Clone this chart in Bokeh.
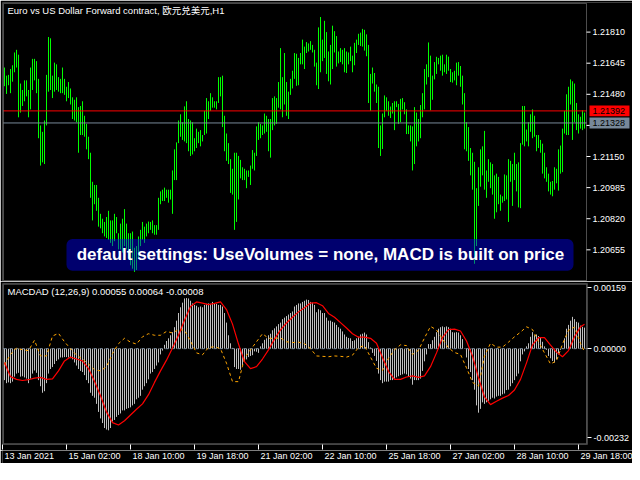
from bokeh.plotting import figure
from bokeh.layouts import column
from bokeh.models import Range1d, FixedTicker, PrintfTickFormatter, Label, BoxAnnotation
from bokeh.core.properties import value
from bokeh.embed import file_html
from bokeh.resources import INLINE

# ---------------- data ----------------
title_text = "Euro vs US Dollar Forward contract, 欧元兑美元,H1"
macd_text = "MACDAD (12,26,9) 0.00055 0.00064 -0.00008"
banner_text = "default settings: UseVolumes = none, MACD is built on price"

bid_price = 1.21392
ask_price = 1.21328

price_ticks = [1.20655, 1.20820, 1.20985, 1.21150, 1.21315, 1.21480, 1.21645, 1.21810]
macd_ticks = [-0.00232, 0.0, 0.00159]

time_tick_idx = [-1, 31, 63, 95, 127, 159, 191, 223, 255, 287]
time_tick_labels = ["13 Jan 2021", "15 Jan 02:00", "18 Jan 10:00", "19 Jan 18:00", "21 Jan 02:00",
                    "22 Jan 10:00", "25 Jan 18:00", "27 Jan 02:00", "28 Jan 10:00", "29 Jan 18:00"]

high = [1.21622, 1.21579, 1.21583, 1.21614, 1.21634, 1.21702, 1.21716, 1.21690, 1.21537, 1.21503,
        1.21554, 1.21554, 1.21503, 1.21622, 1.21668, 1.21668, 1.21656, 1.21562, 1.21315, 1.21281,
        1.21341, 1.21583, 1.21784, 1.21777, 1.21579, 1.21648, 1.21639, 1.21571, 1.21562, 1.21622,
        1.21562, 1.21520, 1.21545, 1.21511, 1.21464, 1.21451, 1.21464, 1.21412, 1.21418, 1.21443,
        1.21366, 1.21323, 1.21255, 1.21170, 1.21016, 1.20999, 1.20999, 1.20931, 1.20846, 1.20820,
        1.20803, 1.20829, 1.20862, 1.20811, 1.20811, 1.20846, 1.20829, 1.20743, 1.20794, 1.20820,
        1.20871, 1.20794, 1.20743, 1.20743, 1.20752, 1.20666, 1.20675, 1.20726, 1.20761, 1.20803,
        1.20778, 1.20794, 1.20805, 1.20803, 1.20811, 1.20786, 1.20786, 1.20931, 1.20965, 1.20974,
        1.20985, 1.20974, 1.20974, 1.20974, 1.21076, 1.21188, 1.21225, 1.21341, 1.21374, 1.21332,
        1.21416, 1.21443, 1.21349, 1.21341, 1.21332, 1.21247, 1.21298, 1.21281, 1.21290, 1.21264,
        1.21392, 1.21460, 1.21443, 1.21486, 1.21464, 1.21443, 1.21443, 1.21571, 1.21571, 1.21579,
        1.21366, 1.21272, 1.21221, 1.21136, 1.21085, 1.21170, 1.21170, 1.21153, 1.21132, 1.21093,
        1.21085, 1.21076, 1.21076, 1.21102, 1.21184, 1.21170, 1.21310, 1.21332, 1.21323, 1.21315,
        1.21378, 1.21366, 1.21349, 1.21349, 1.21460, 1.21469, 1.21460, 1.21545, 1.21725, 1.21571,
        1.21699, 1.21545, 1.21494, 1.21562, 1.21605, 1.21699, 1.21695, 1.21673, 1.21699, 1.21770,
        1.21733, 1.21757, 1.21750, 1.21762, 1.21742, 1.21716, 1.21648, 1.21835, 1.21890, 1.21770,
        1.21870, 1.21810, 1.21707, 1.21742, 1.21844, 1.21815, 1.21789, 1.21707, 1.21725, 1.21716,
        1.21725, 1.21707, 1.21702, 1.21733, 1.21685, 1.21753, 1.21770, 1.21801, 1.21807, 1.21827,
        1.21822, 1.21798, 1.21742, 1.21588, 1.21622, 1.21593, 1.21532, 1.21520, 1.21315, 1.21378,
        1.21474, 1.21464, 1.21443, 1.21415, 1.21434, 1.21443, 1.21443, 1.21429, 1.21456, 1.21460,
        1.21438, 1.21400, 1.21315, 1.21315, 1.21310, 1.21412, 1.21383, 1.21349, 1.21423, 1.21486,
        1.21614, 1.21639, 1.21755, 1.21685, 1.21579, 1.21651, 1.21679, 1.21673, 1.21685, 1.21690,
        1.21639, 1.21690, 1.21680, 1.21614, 1.21597, 1.21605, 1.21648, 1.21651, 1.21630, 1.21579,
        1.21486, 1.21332, 1.21306, 1.21195, 1.21170, 1.21122, 1.20982, 1.21093, 1.21188, 1.21204,
        1.21286, 1.21076, 1.21136, 1.21119, 1.21110, 1.21050, 1.21059, 1.21042, 1.20948, 1.20939,
        1.21055, 1.21050, 1.21136, 1.21127, 1.21110, 1.21170, 1.21110, 1.21119, 1.21221, 1.21418,
        1.21418, 1.21293, 1.21332, 1.21374, 1.21400, 1.21366, 1.21264, 1.21264, 1.21238, 1.21218,
        1.21170, 1.21093, 1.21059, 1.21016, 1.21020, 1.21093, 1.21085, 1.21188, 1.21208, 1.21298,
        1.21392, 1.21480, 1.21520, 1.21559, 1.21549, 1.21537, 1.21434, 1.21374, 1.21361, 1.21395,
        1.21383]

low = [1.21523, 1.21482, 1.21528, 1.21486, 1.21547, 1.21597, 1.21622, 1.21358, 1.21383, 1.21418,
       1.21443, 1.21469, 1.21358, 1.21400, 1.21503, 1.21554, 1.21486, 1.21247, 1.21102, 1.21119,
       1.21110, 1.21315, 1.21494, 1.21503, 1.21460, 1.21494, 1.21503, 1.21494, 1.21486, 1.21486,
       1.21477, 1.21443, 1.21460, 1.21426, 1.21349, 1.21341, 1.21332, 1.21170, 1.21264, 1.21264,
       1.21255, 1.21188, 1.21136, 1.20931, 1.20811, 1.20897, 1.20862, 1.20778, 1.20769, 1.20743,
       1.20726, 1.20718, 1.20709, 1.20692, 1.20675, 1.20701, 1.20743, 1.20657, 1.20657, 1.20641,
       1.20675, 1.20657, 1.20607, 1.20573, 1.20555, 1.20538, 1.20548, 1.20607, 1.20675, 1.20709,
       1.20692, 1.20726, 1.20743, 1.20761, 1.20743, 1.20735, 1.20735, 1.20761, 1.20897, 1.20914,
       1.20914, 1.20931, 1.20905, 1.20922, 1.20846, 1.21025, 1.21025, 1.21221, 1.21255, 1.21238,
       1.21230, 1.21221, 1.21178, 1.21153, 1.21161, 1.21178, 1.21195, 1.21221, 1.21204, 1.21230,
       1.21264, 1.21272, 1.21349, 1.21392, 1.21409, 1.21409, 1.21400, 1.21434, 1.21469, 1.21306,
       1.21178, 1.21127, 1.21110, 1.20957, 1.20948, 1.20761, 1.20803, 1.20922, 1.21034, 1.21025,
       1.21025, 1.20982, 1.21042, 1.20999, 1.21085, 1.21076, 1.21153, 1.21238, 1.21247, 1.21264,
       1.21272, 1.21281, 1.21178, 1.21144, 1.21290, 1.21315, 1.21323, 1.21409, 1.21400, 1.21358,
       1.21426, 1.21366, 1.21349, 1.21477, 1.21511, 1.21562, 1.21525, 1.21528, 1.21639, 1.21639,
       1.21614, 1.21699, 1.21707, 1.21716, 1.21702, 1.21627, 1.21528, 1.21508, 1.21597, 1.21656,
       1.21673, 1.21588, 1.21549, 1.21532, 1.21614, 1.21702, 1.21627, 1.21644, 1.21651, 1.21639,
       1.21597, 1.21593, 1.21639, 1.21656, 1.21597, 1.21634, 1.21699, 1.21742, 1.21736, 1.21733,
       1.21712, 1.21682, 1.21434, 1.21392, 1.21537, 1.21494, 1.21434, 1.21195, 1.21153, 1.21190,
       1.21358, 1.21392, 1.21366, 1.21354, 1.21378, 1.21290, 1.21412, 1.21323, 1.21332, 1.21400,
       1.21374, 1.21269, 1.21269, 1.21230, 1.21076, 1.21110, 1.21204, 1.21230, 1.21247, 1.21358,
       1.21400, 1.21532, 1.21571, 1.21395, 1.21451, 1.21559, 1.21588, 1.21639, 1.21605, 1.21579,
       1.21597, 1.21588, 1.21605, 1.21545, 1.21542, 1.21554, 1.21528, 1.21579, 1.21520, 1.21426,
       1.21188, 1.21178, 1.21127, 1.21050, 1.20974, 1.20581, 1.20675, 1.20888, 1.20990, 1.21050,
       1.20974, 1.20931, 1.21016, 1.20982, 1.20948, 1.20820, 1.20854, 1.20897, 1.20862, 1.20905,
       1.20914, 1.20922, 1.20803, 1.21016, 1.20888, 1.21025, 1.20965, 1.20880, 1.20876, 1.21213,
       1.21204, 1.21230, 1.21204, 1.21281, 1.21247, 1.21255, 1.21178, 1.21195, 1.21170, 1.21059,
       1.21034, 1.21016, 1.20965, 1.20948, 1.20939, 1.20974, 1.21008, 1.20969, 1.21059, 1.21067,
       1.21272, 1.21264, 1.21264, 1.21426, 1.21238, 1.21332, 1.21290, 1.21272, 1.21298, 1.21290,
       1.21298]

hist = [-0.00082, -0.00090, -0.00088, -0.00090, -0.00086, -0.00073, -0.00065, -0.00063, -0.00073, -0.00072,
        -0.00075, -0.00078, -0.00090, -0.00078, -0.00065, -0.00057, -0.00063, -0.00082, -0.00098, -0.00115,
        -0.00111, -0.00090, -0.00065, -0.00053, -0.00048, -0.00040, -0.00032, -0.00028, -0.00023, -0.00023,
        -0.00022, -0.00022, -0.00023, -0.00025, -0.00028, -0.00036, -0.00044, -0.00053, -0.00058, -0.00061,
        -0.00069, -0.00082, -0.00090, -0.00115, -0.00123, -0.00128, -0.00144, -0.00165, -0.00182, -0.00194,
        -0.00207, -0.00211, -0.00213, -0.00207, -0.00190, -0.00186, -0.00178, -0.00173, -0.00169, -0.00161,
        -0.00161, -0.00157, -0.00155, -0.00153, -0.00148, -0.00144, -0.00132, -0.00128, -0.00123, -0.00107,
        -0.00098, -0.00090, -0.00080, -0.00065, -0.00061, -0.00053, -0.00044, -0.00036, -0.00015, -0.00005,
        0.00010, 0.00020, 0.00027, 0.00035, 0.00043, 0.00056, 0.00073, 0.00093, 0.00108, 0.00120,
        0.00131, 0.00132, 0.00131, 0.00125, 0.00118, 0.00114, 0.00112, 0.00108, 0.00110, 0.00108,
        0.00114, 0.00117, 0.00118, 0.00117, 0.00122, 0.00118, 0.00117, 0.00114, 0.00114, 0.00110,
        0.00093, 0.00068, 0.00035, 0.00014, 0.00002, -0.00048, -0.00053, -0.00053, -0.00055, -0.00044,
        -0.00032, -0.00028, -0.00022, -0.00019, -0.00017, -0.00007, -0.00008, -0.00011, 0.00006, 0.00014,
        0.00023, 0.00027, 0.00035, 0.00039, 0.00048, 0.00053, 0.00058, 0.00064, 0.00068, 0.00077,
        0.00081, 0.00085, 0.00089, 0.00093, 0.00097, 0.00110, 0.00114, 0.00118, 0.00118, 0.00122,
        0.00125, 0.00128, 0.00127, 0.00122, 0.00120, 0.00114, 0.00095, 0.00103, 0.00100, 0.00093,
        0.00093, 0.00081, 0.00073, 0.00073, 0.00070, 0.00068, 0.00062, 0.00056, 0.00052, 0.00045,
        0.00037, 0.00031, 0.00028, 0.00027, 0.00020, 0.00022, 0.00027, 0.00031, 0.00037, 0.00039,
        0.00042, 0.00037, 0.00017, 0.00003, -0.00011, -0.00019, -0.00032, -0.00065, -0.00082, -0.00090,
        -0.00086, -0.00086, -0.00086, -0.00082, -0.00082, -0.00078, -0.00075, -0.00072, -0.00069, -0.00067,
        -0.00065, -0.00067, -0.00073, -0.00078, -0.00094, -0.00082, -0.00082, -0.00082, -0.00078, -0.00058,
        -0.00033, -0.00015, 0.00012, 0.00012, 0.00022, 0.00031, 0.00043, 0.00052, 0.00056, 0.00058,
        0.00056, 0.00058, 0.00056, 0.00052, 0.00043, 0.00042, 0.00043, 0.00042, 0.00035, 0.00025,
        0.00001, -0.00023, -0.00053, -0.00061, -0.00082, -0.00107, -0.00148, -0.00167, -0.00157, -0.00140,
        -0.00144, -0.00140, -0.00136, -0.00132, -0.00128, -0.00130, -0.00125, -0.00123, -0.00123, -0.00119,
        -0.00117, -0.00108, -0.00107, -0.00098, -0.00090, -0.00082, -0.00072, -0.00065, -0.00033, -0.00015,
        -0.00007, 0.00006, 0.00014, 0.00031, 0.00043, 0.00035, 0.00037, 0.00033, 0.00028, 0.00018,
        0.00006, -0.00003, -0.00019, -0.00025, -0.00032, -0.00036, -0.00028, -0.00015, -0.00003, 0.00002,
        0.00027, 0.00052, 0.00062, 0.00073, 0.00083, 0.00077, 0.00070, 0.00068, 0.00060, 0.00057,
        0.00055]

# signal (red) and second line (orange), read every third bar
line_idx = list(range(0, 289, 3)) + [290]
signal = [-0.00036, -0.00073, -0.00080, -0.00083, -0.00081, -0.00077, -0.00075, -0.00080, -0.00079, -0.00058,
          -0.00032, -0.00022, -0.00027, -0.00032, -0.00052, -0.00085, -0.00123, -0.00165, -0.00193, -0.00199,
          -0.00188, -0.00173, -0.00158, -0.00144, -0.00120, -0.00088, -0.00058, -0.00030, 0.00002, 0.00035,
          0.00074, 0.00110, 0.00122, 0.00119, 0.00115, 0.00118, 0.00122, 0.00102, 0.00064, 0.00012,
          -0.00034, -0.00052, -0.00047, -0.00027, -0.00003, 0.00025, 0.00049, 0.00067, 0.00082, 0.00096,
          0.00107, 0.00119, 0.00120, 0.00112, 0.00092, 0.00082, 0.00068, 0.00054, 0.00039, 0.00030,
          0.00030, 0.00027, 0.00014, -0.00023, -0.00059, -0.00080, -0.00080, -0.00074, -0.00071, -0.00075,
          -0.00071, -0.00047, -0.00011, 0.00029, 0.00050, 0.00051, 0.00046, 0.00020, -0.00019, -0.00076,
          -0.00126, -0.00146, -0.00137, -0.00129, -0.00122, -0.00108, -0.00080, -0.00037, 0.00010, 0.00029,
          0.00029, 0.00009, -0.00009, -0.00021, -0.00005, 0.00031, 0.00057, 0.00064]
second = [-0.00042, -0.00015, 0.00002, -0.00003, -0.00005, 0.00022, -0.00019, -0.00019, 0.00033, 0.00040,
          0.00018, 0.00000, -0.00017, -0.00027, -0.00040, -0.00055, -0.00058, -0.00047, -0.00013, 0.00013,
          0.00027, 0.00017, 0.00012, 0.00031, 0.00039, 0.00035, 0.00035, 0.00045, 0.00041, 0.00050,
          0.00048, 0.00020, -0.00011, -0.00016, 0.00003, 0.00005, 0.00000, -0.00038, -0.00086, -0.00086,
          -0.00025, -0.00003, 0.00018, 0.00039, 0.00027, 0.00027, 0.00028, 0.00018, 0.00016, 0.00017,
          0.00013, 0.00000, -0.00019, -0.00020, -0.00021, -0.00019, -0.00020, -0.00022, -0.00017, 0.00003,
          0.00008, -0.00022, -0.00051, -0.00057, -0.00025, -0.00003, 0.00010, 0.00008, -0.00015, -0.00004,
          0.00028, 0.00058, 0.00049, 0.00025, 0.00002, -0.00010, -0.00015, -0.00050, -0.00088, -0.00098,
          -0.00019, 0.00014, 0.00004, 0.00004, 0.00017, 0.00031, 0.00043, 0.00057, 0.00050, 0.00018,
          -0.00011, -0.00040, -0.00032, 0.00012, 0.00048, 0.00056, 0.00014, -0.00008]

# ---------------- layout constants ----------------
FONT = "Liberation Sans"
CJK_FONT = "Liberation Sans, Noto Sans CJK SC"
BG = "black"
X0, X1 = -1.0, 291.5             # visible bar span (2 px per bar over 585 px)
PLOT_W = 585
FULL_W = 630                     # frame width for panes that also hold the price scale
XR_FULL = X0 + FULL_W / 2.0
EDGE_L, EDGE_R = -0.5, 291.0     # chart border, 1 px inside the frame

n = min(len(high), len(low))
bar_idx = list(range(n))
nh = len(hist)
hist_idx = list(range(nh))
nl = min(len(line_idx), len(signal), len(second))

# ---------------- main price pane ----------------
YP0, YP1 = 1.20487, 1.21967
x_full = Range1d(X0, XR_FULL)
p1 = figure(frame_width=FULL_W, frame_height=279, title=None, output_backend="svg", toolbar_location=None,
            x_range=x_full, y_range=Range1d(YP0, YP1),
            x_axis_location=None, y_axis_location=None,
            min_border_left=2, min_border_right=0, min_border_top=2, min_border_bottom=0,
            background_fill_color=BG, border_fill_color=BG, outline_line_color=None)
p1.grid.visible = False

p1.segment(x0=bar_idx, y0=low[:n], x1=bar_idx, y1=high[:n], line_color="#00ff00", line_width=1)

# bid / ask level lines
p1.segment(x0=[EDGE_L, EDGE_L], x1=[EDGE_R, EDGE_R], y0=[bid_price, ask_price], y1=[bid_price, ask_price],
           line_color=["#ff0000", "#778899"], line_width=1)

# chart border
p1.add_layout(BoxAnnotation(left=EDGE_L, right=EDGE_R, bottom=1.20492, top=1.21962,
                            fill_color=None, line_color="white", line_width=1))

# price scale (ticks + labels) to the right of the chart border
tick_len = 2.0   # 4 px
p1.segment(x0=[EDGE_R] * len(price_ticks), x1=[EDGE_R + tick_len] * len(price_ticks),
           y0=price_ticks, y1=price_ticks, line_color="white", line_width=1)
p1.text(x=[EDGE_R + 3.0] * len(price_ticks), y=price_ticks, text=[f"{v:.5f}" for v in price_ticks],
        text_align="left", text_baseline="middle", text_font=value(FONT), text_font_size=value("9px"),
        text_color="white")

# bid / ask price tags
half = 0.00029
tags = [bid_price, ask_price]
p1.quad(left=[EDGE_R + 1.5] * 2, right=[EDGE_R + 21.5] * 2,
        bottom=[v - half for v in tags], top=[v + half for v in tags],
        fill_color=["#ff0000", "#778899"], line_color=None)
p1.text(x=[EDGE_R + 3.0] * 2, y=tags, text=[f"{v:.5f}" for v in tags],
        text_align="left", text_baseline="middle", text_font=value(FONT), text_font_size=value("9px"),
        text_color="black")

p1.add_layout(Label(x=1.5, y=1.21952, text=title_text, text_align="left", text_baseline="top",
                    text_font=CJK_FONT, text_font_size="9.5px", text_color="white"))

p1.add_layout(BoxAnnotation(left=31, right=284.5, bottom=1.20544, top=1.20712,
                            fill_color="#0000ff", fill_alpha=0.43, line_color=None, border_radius=6))
p1.add_layout(Label(x=158, y=1.20628, text=banner_text, text_align="center", text_baseline="middle",
                    text_font=FONT, text_font_style="bold", text_font_size="17px", text_color="white"))

# ---------------- MACD pane ----------------
p2 = figure(frame_width=PLOT_W, frame_height=161, title=None, output_backend="svg", toolbar_location=None,
            x_range=Range1d(X0, X1), y_range=Range1d(-0.00250, 0.00170),
            y_axis_location="right",
            min_border_left=2, min_border_right=45, min_border_top=2, min_border_bottom=6,
            background_fill_color=BG, border_fill_color=BG, outline_line_color=None)
p2.grid.visible = False

ya2 = p2.yaxis[0]
ya2.axis_line_color = None
ya2.major_tick_line_color = "white"
ya2.major_tick_in = 0
ya2.major_tick_out = 4
ya2.minor_tick_line_color = None
ya2.major_label_text_color = "white"
ya2.major_label_text_font = FONT
ya2.major_label_text_font_size = "9px"
ya2.major_label_standoff = 2
ya2.ticker = FixedTicker(ticks=macd_ticks)
ya2.formatter = PrintfTickFormatter(format="%.5f")

xa = p2.xaxis[0]
xa.axis_line_color = None
xa.major_tick_line_color = "white"
xa.major_tick_in = 0
xa.major_tick_out = 5
xa.minor_tick_line_color = None
xa.ticker = FixedTicker(ticks=time_tick_idx)
xa.major_label_overrides = {t: "" for t in time_tick_idx}
xa.major_label_text_font_size = "0px"
xa.major_label_standoff = 0

p2.segment(x0=hist_idx, y0=[0.0] * nh, x1=hist_idx, y1=hist, line_color="#c0c0c0", line_width=1)
p2.segment(x0=[EDGE_L], x1=[EDGE_R], y0=[0.0], y1=[0.0], line_color="#778899", line_width=1, line_dash="3 3")
p2.line(x=line_idx[:nl], y=second[:nl], line_color="#ffa500", line_width=1, line_dash="3 3")
p2.line(x=line_idx[:nl], y=signal[:nl], line_color="#ff0000", line_width=1.2)

p2.add_layout(BoxAnnotation(left=EDGE_L, right=EDGE_R, bottom=-0.00248, top=0.00168,
                            fill_color=None, line_color="white", line_width=1))

p2.add_layout(Label(x=1.5, y=0.00163, text=macd_text, text_align="left", text_baseline="top",
                    text_font=FONT, text_font_size="9.5px", text_color="white"))

# ---------------- time labels ----------------
p3 = figure(frame_width=FULL_W, frame_height=13, title=None, output_backend="svg", toolbar_location=None,
            x_range=x_full, y_range=Range1d(0, 1),
            x_axis_location=None, y_axis_location=None,
            min_border_left=2, min_border_right=0, min_border_top=0, min_border_bottom=0,
            background_fill_color=BG, border_fill_color=BG, outline_line_color=None)
p3.grid.visible = False
p3.text(x=[t + 1.0 for t in time_tick_idx], y=[0.97] * len(time_tick_idx), text=time_tick_labels,
        text_align="left", text_baseline="top", text_font=value(FONT), text_font_size=value("9px"),
        text_color="white")

layout = column(p1, p2, p3, spacing=0)

open("out.html", "w").write(file_html(layout, INLINE))
